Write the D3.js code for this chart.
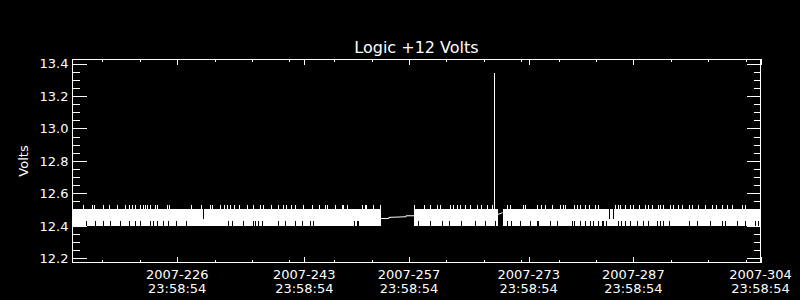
<!DOCTYPE html>
<html>
<head>
<meta charset="utf-8">
<script src="https://cdn.jsdelivr.net/npm/d3@7"></script>
<style>
  body { margin: 0; background: #000; }
  svg { display: block; color: #fff; }
</style>
</head>
<body>
<svg id="chart" width="800" height="300"></svg>
<script>
// ---- data (x = day of year 2007, y = volts) ----
const title = "Logic +12 Volts";
const yLabel = "Volts";

const yMajor = [12.2, 12.4, 12.6, 12.8, 13.0, 13.2, 13.4];
const yLabels = ["12.2", "12.4", "12.6", "12.8", "13.0", "13.2", "13.4"];

const xMajorDays = [226, 243, 257, 273, 287, 304];
const xMajorLabels = ["2007-226", "2007-243", "2007-257", "2007-273", "2007-287", "2007-304"];
const xTimeLabel = "23:58:54";
const xMinorDays = [216, 221, 231, 236, 241, 247, 252, 262, 267, 272, 277, 282, 292, 297, 302];

// dense telemetry toggling between two levels -> solid band
const bandStart = [212, 257.7, 269.5];
const bandEnd   = [253.2, 268.9, 304];
const bandLo = 12.401;
const bandHi = 12.502;
const spikeTop = 12.530;   // occasional one-count-high samples
const notchTop = 12.432;   // columns that never reach the low level

const spikeUpDays = [
  213.4, 214.6, 214.9, 216.1, 216.9, 217.9, 219.0, 219.5, 219.9, 220.4, 221.0, 221.4,
  221.7, 222.0, 222.4, 223.0, 223.3, 224.6, 224.9, 227.9, 229.2, 230.4, 230.6, 231.7,
  232.2, 232.6, 233.1, 233.6, 234.2, 235.3, 236.2, 237.1, 237.5, 238.6, 239.5, 240.2,
  240.6, 241.2, 241.8, 242.8, 244.0, 244.9, 245.8, 246.0, 247.1, 248.0, 248.2, 248.7,
  250.7, 251.1, 251.3, 252.2, 253.1, 257.7, 259.0, 259.8, 260.7, 261.1, 262.5, 262.9,
  263.4, 263.8, 264.5, 265.2, 266.1, 266.6, 267.4, 268.1, 270.1, 270.5, 272.2, 272.5,
  274.1, 274.7, 275.2, 276.1, 277.2, 277.6, 277.9, 279.0, 279.4, 279.9, 280.5, 281.0,
  281.9, 282.3, 284.5, 284.9, 285.2, 285.9, 286.6, 287.0, 287.7, 288.6, 288.9, 289.5,
  290.3, 290.6, 291.0, 291.9, 292.3, 293.0, 293.5, 294.4, 294.8, 295.7, 296.6, 297.5,
  298.1, 298.8, 299.5, 300.2, 301.5, 301.9
];

const notchDays = [
  213.8, 215.0, 216.1, 217.0, 218.4, 219.5, 220.4, 221.0, 222.4, 222.7, 223.3, 224.1,
  224.8, 225.9, 227.2, 232.8, 233.3, 234.8, 236.2, 236.4, 236.8, 237.3, 239.5, 240.4,
  241.7, 242.7, 243.7, 244.2, 249.6, 250.0, 250.2, 258.2, 259.8, 261.4, 262.3, 264.0,
  265.8, 267.2, 268.5, 270.1, 270.7, 271.8, 273.2, 274.1, 274.3, 275.9, 276.8, 278.8,
  279.0, 279.9, 280.5, 281.2, 281.6, 282.3, 282.8, 283.0, 283.4, 285.0, 285.4, 285.9,
  286.6, 287.5, 288.3, 289.0, 290.1, 290.6, 291.0, 291.7, 294.4, 295.5, 297.3, 298.8,
  299.3, 300.8, 301.9, 303.3, 303.7
];
// columns where the top of the band drops out
const dropDays = [229.5, 283.8, 284.3];
const dropLevel = 12.445;

// sparse samples inside the data gaps
const gap1Days  = [253.2, 254.3, 254.3, 256.6, 256.6, 257.7];
const gap1Volts = [12.445, 12.445, 12.452, 12.456, 12.462, 12.462];
const gap2Days  = [268.7, 269.5];
const gap2Volts = [12.467, 12.481];

// single high reading
const peakDay = 268.4;
const peakVolts = 13.34;

// ---- drawing ----
const svg = d3.select("#chart");
const x = d3.scaleLinear().domain([212, 304]).range([72.5, 760.5]);
const y = d3.scaleLinear().domain([12.171, 13.428]).range([263, 59]);
const px = v => Math.round(x(v)) + 0.5;

const font = "DejaVu Sans, sans-serif";

// band
svg.append("g").selectAll("rect")
  .data(d3.range(bandStart.length)).join("rect")
  .attr("x", i => x(bandStart[i]))
  .attr("width", i => x(bandEnd[i]) - x(bandStart[i]))
  .attr("y", y(bandHi))
  .attr("height", y(bandLo) - y(bandHi))
  .attr("fill", "#fff")
  .attr("shape-rendering", "crispEdges");

svg.append("g").selectAll("line")
  .data(spikeUpDays).join("line")
  .attr("x1", px).attr("x2", px)
  .attr("y1", y(bandHi)).attr("y2", y(spikeTop))
  .attr("stroke", "#fff").attr("shape-rendering", "crispEdges");

svg.append("g").selectAll("line")
  .data(notchDays).join("line")
  .attr("x1", px).attr("x2", px)
  .attr("y1", y(bandLo)).attr("y2", y(notchTop))
  .attr("stroke", "#000").attr("shape-rendering", "crispEdges");

svg.append("g").selectAll("line")
  .data(dropDays).join("line")
  .attr("x1", px).attr("x2", px)
  .attr("y1", y(bandHi)).attr("y2", y(dropLevel))
  .attr("stroke", "#000").attr("shape-rendering", "crispEdges");

const line = d3.line().x(d => x(d[0])).y(d => y(d[1]));
[[gap1Days, gap1Volts], [gap2Days, gap2Volts]].forEach(([ds, vs]) => {
  svg.append("path")
    .attr("d", line(ds.map((d, i) => [d, vs[i]])))
    .attr("fill", "none").attr("stroke", "#fff").attr("stroke-width", 1);
});

svg.append("line")
  .attr("x1", px(peakDay)).attr("x2", px(peakDay))
  .attr("y1", y(bandHi)).attr("y2", y(peakVolts))
  .attr("stroke", "#fff").attr("shape-rendering", "crispEdges");

// axes (IDL style: ticks point inward on all four sides)
function styleAxis(g) {
  g.select(".domain").remove();
  g.selectAll("line").attr("shape-rendering", "crispEdges");
  g.attr("font-family", font).attr("font-size", 13);
}

svg.append("g").attr("transform", "translate(0,263)")
  .call(d3.axisBottom(x).tickValues(xMajorDays).tickSizeInner(-6).tickSizeOuter(0).tickFormat(""))
  .call(styleAxis);
svg.append("g").attr("transform", "translate(0,263)")
  .call(d3.axisBottom(x).tickValues(xMinorDays).tickSizeInner(-3).tickSizeOuter(0).tickFormat(""))
  .call(styleAxis);
svg.append("g").attr("transform", "translate(0,59)")
  .call(d3.axisTop(x).tickValues(xMajorDays).tickSizeInner(-6).tickSizeOuter(0).tickFormat(""))
  .call(styleAxis);
svg.append("g").attr("transform", "translate(0,59)")
  .call(d3.axisTop(x).tickValues(xMinorDays).tickSizeInner(-3).tickSizeOuter(0).tickFormat(""))
  .call(styleAxis);

const yMinor = d3.range(12.2, 13.4001, 0.05).filter(v => !yMajor.some(m => Math.abs(m - v) < 1e-6));

svg.append("g").attr("transform", "translate(72.5,0)")
  .call(d3.axisLeft(y).tickValues(yMajor).tickSizeInner(-14).tickSizeOuter(0).tickPadding(4)
    .tickFormat((d, i) => yLabels[i]))
  .call(styleAxis);
svg.append("g").attr("transform", "translate(72.5,0)")
  .call(d3.axisLeft(y).tickValues(yMinor).tickSizeInner(-7).tickSizeOuter(0).tickFormat(""))
  .call(styleAxis);
svg.append("g").attr("transform", "translate(760.5,0)")
  .call(d3.axisRight(y).tickValues(yMajor).tickSizeInner(-14).tickSizeOuter(0).tickFormat(""))
  .call(styleAxis);
svg.append("g").attr("transform", "translate(760.5,0)")
  .call(d3.axisRight(y).tickValues(yMinor).tickSizeInner(-7).tickSizeOuter(0).tickFormat(""))
  .call(styleAxis);

// frame
svg.append("rect")
  .attr("x", 72.5).attr("y", 59.5)
  .attr("width", 688).attr("height", 203)
  .attr("fill", "none").attr("stroke", "#fff").attr("shape-rendering", "crispEdges");

// two-line date labels
const xl = svg.append("g").attr("font-family", font).attr("font-size", 13)
  .attr("fill", "#fff").attr("text-anchor", "middle");
xl.selectAll("text").data(xMajorDays).join("text")
  .attr("x", d => x(d))
  .attr("y", 278.5)
  .text((d, i) => xMajorLabels[i])
  .append("tspan")
  .attr("x", d => x(d)).attr("y", 292.5)
  .text(xTimeLabel);

svg.append("text")
  .attr("x", (x.range()[0] + x.range()[1]) / 2)
  .attr("y", 52.5)
  .attr("text-anchor", "middle")
  .attr("font-family", font).attr("font-size", 16)
  .attr("fill", "#fff")
  .text(title);

svg.append("text")
  .attr("transform", `translate(28,${(y.range()[0] + y.range()[1]) / 2}) rotate(-90)`)
  .attr("text-anchor", "middle")
  .attr("font-family", font).attr("font-size", 13)
  .attr("fill", "#fff")
  .text(yLabel);
</script>
</body>
</html>
